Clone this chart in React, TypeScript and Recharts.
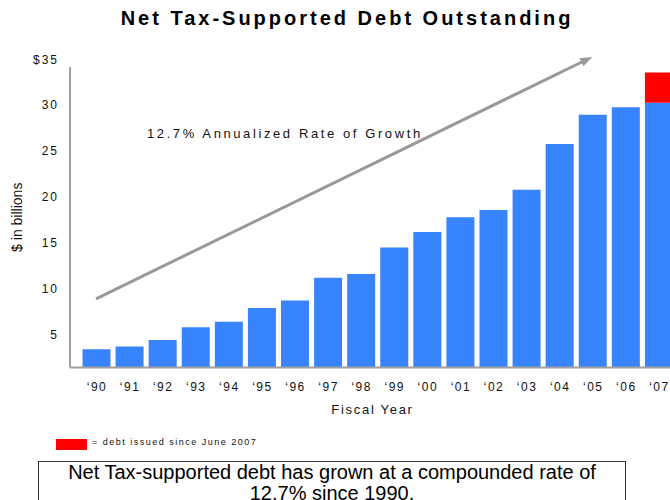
import { BarChart, Bar, XAxis, YAxis, ReferenceLine } from "recharts";

const years = ["‘90", "‘91", "‘92", "‘93", "‘94", "‘95", "‘96", "‘97", "‘98", "‘99", "‘00", "‘01", "‘02", "‘03", "‘04", "‘05", "‘06", "‘07"];
// $ billions outstanding at fiscal year end
const baseDebt = [3.4, 3.7, 4.4, 5.8, 6.4, 7.9, 8.7, 11.2, 11.6, 14.5, 16.2, 17.8, 18.6, 20.8, 25.8, 29.0, 29.8, 30.3];
// debt issued since June 2007 (red cap on the last bar)
const newDebt = [0, 0, 0, 0, 0, 0, 0, 0, 0, 0, 0, 0, 0, 0, 0, 0, 0, 3.3];
const yTicks = [5, 10, 15, 20, 25, 30, 35];
// annotation arrow, start and end in chart units
const growthArrow = [{ x: "‘90", y: 8.9 }, { x: "‘05", y: 35.3 }];

const data = years.map((year, i) => ({ year, base: baseDebt[i], recent: newDebt[i] }));

const BLUE = "#3884ff";
const RED = "#ff0000";
const AXIS = "#a0a0a0";
const FONT = '"Liberation Sans", Arial, Helvetica, sans-serif';

function XTick({ x, y, payload }: any) {
  return (
    <text x={x + 1} y={y} dy={23} textAnchor="middle" fontSize={12} letterSpacing={1.5} fill="#111" fontFamily={FONT}>
      {payload.value}
    </text>
  );
}

function YTick({ x, y, payload }: any) {
  return (
    <text x={x - 11} y={y} dy={4} textAnchor="end" fontSize={12} letterSpacing={2} fill="#111" fontFamily={FONT}>
      {payload.value === 35 ? "$35" : payload.value}
    </text>
  );
}

function Arrow({ x1, y1, x2, y2 }: any) {
  const ang = Math.atan2(y2 - y1, x2 - x1);
  const len = 12;
  const half = 4.5;
  const c = Math.cos(ang);
  const s = Math.sin(ang);
  const bx = x2 - len * c;
  const by = y2 - len * s;
  const pts = `${x2},${y2} ${bx + half * s},${by - half * c} ${bx - half * s},${by + half * c}`;
  return (
    <g>
      <line x1={x1} y1={y1} x2={bx + c} y2={by + s} stroke="#999" strokeWidth={3} />
      <polygon points={pts} fill="#999" />
    </g>
  );
}

function YLabel({ viewBox }: any) {
  const cx = viewBox.x + 17;
  const cy = viewBox.y + viewBox.height / 2;
  return (
    <text x={cx} y={cy} dy="0.35em" transform={`rotate(-90 ${cx} ${cy})`} textAnchor="middle" fontSize={14} fill="#111" fontFamily={FONT}>
      $ in billions
    </text>
  );
}

export default function App() {
  return (
    <div style={{ position: "fixed", left: 0, top: 0, width: 670, height: 500, overflow: "hidden", background: "#fff", fontFamily: FONT, color: "#111" }}>
      <div style={{ position: "absolute", left: 0, width: 694, top: 6, textAlign: "center", fontSize: 20, fontWeight: "bold", letterSpacing: 3, lineHeight: "24px", color: "#000" }}>
        Net Tax-Supported Debt Outstanding
      </div>

      <div style={{ position: "absolute", left: 0, top: 0 }}>
        <BarChart width={675} height={420} data={data} margin={{ top: 67, right: 0, left: 0, bottom: 0 }} barSize={28}>
          <XAxis
            dataKey="year"
            height={52.5}
            padding={{ left: 9.5, right: 0 }}
            axisLine={{ stroke: AXIS, strokeWidth: 2 }}
            tickLine={false}
            tickSize={0}
            tickMargin={0}
            interval={0}
            tick={<XTick />}
            label={{ value: "Fiscal Year", position: "insideBottom", offset: 6, fontSize: 13, letterSpacing: 1.7, fill: "#111", fontFamily: FONT }}
          />
          <YAxis
            width={70}
            domain={[1.4, 34.2]}
            ticks={yTicks}
            interval={0}
            allowDataOverflow
            axisLine={{ stroke: AXIS, strokeWidth: 2 }}
            tickLine={false}
            tickSize={0}
            tickMargin={0}
            tick={<YTick />}
            label={{ content: YLabel }}
          />
          <Bar dataKey="base" stackId="debt" fill={BLUE} isAnimationActive={false} />
          <Bar dataKey="recent" stackId="debt" fill={RED} isAnimationActive={false} />
          <ReferenceLine segment={growthArrow} ifOverflow="visible" shape={Arrow} />
        </BarChart>
      </div>

      <div style={{ position: "absolute", left: 147, top: 126, fontSize: 13, letterSpacing: 2.6, lineHeight: "16px", whiteSpace: "nowrap" }}>
        12.7% Annualized Rate of Growth
      </div>

      <div style={{ position: "absolute", left: 56, top: 439, width: 31, height: 11, background: RED }} />
      <div style={{ position: "absolute", left: 92, top: 436, fontSize: 9, letterSpacing: 1.5, lineHeight: "12px", whiteSpace: "nowrap" }}>
        = debt issued since June 2007
      </div>

      <div style={{ position: "absolute", left: 38, top: 461, width: 586, height: 60, border: "1px solid #333", textAlign: "center", fontSize: 20, lineHeight: "21px", color: "#000" }}>
        Net Tax-supported debt has grown at a compounded rate of
        <br />
        12.7% since 1990.
      </div>
    </div>
  );
}
